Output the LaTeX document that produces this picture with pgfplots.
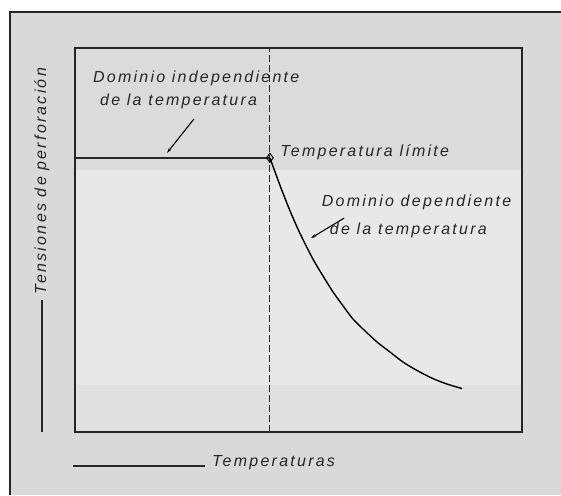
\documentclass[border=0pt]{standalone}
\usepackage{pgfplots}
\pgfplotsset{compat=1.18}
\usetikzlibrary{arrows.meta}
\usepackage{fontspec}
\setmainfont{Liberation Sans}[LetterSpace=14]
\begin{document}
\begin{tikzpicture}[x=1pt,y=1pt]
\path[use as bounding box] (0,0) rectangle (561,495);
% background tones (scanned dither approximated)
\fill[black!15] (10,0) rectangle (561,483);
\fill[black!9] (75,63) rectangle (522,447);
\fill[black!14] (75,325) rectangle (522,447);
\fill[black!12] (75,63) rectangle (522,110);
% outer frame
\draw[line width=1.2pt, black!85] (10,0) -- (10,483) -- (561,483);
\begin{axis}[
  at={(75pt,63pt)}, anchor=origin,
  width=447pt, height=384pt, scale only axis,
  xmin=0, xmax=10, ymin=0, ymax=10,
  xtick=\empty, ytick=\empty,
  axis line style={line width=1.4pt, black!85},
  clip=false,
  font=\itshape\fontsize{16}{18}\selectfont,
]
% dashed limit line
\addplot[black!85, line width=1.1pt, dash pattern=on 7pt off 3pt] coordinates {(4.36,0) (4.36,10)};
% temperature independent stress level
\addplot[black!85, line width=1.4pt] coordinates {(0,7.14) (4.36,7.14)};
% temperature dependent decay
\addplot[black, line width=1.4pt, smooth] coordinates {
 (4.36,7.14) (4.59,6.41) (4.81,5.76) (5.03,5.18) (5.32,4.51) (5.55,4.06)
 (5.77,3.65) (6.00,3.28) (6.22,2.94) (6.49,2.63) (6.76,2.34) (7.05,2.08)
 (7.34,1.82) (7.67,1.59) (8.01,1.39) (8.32,1.25) (8.66,1.13)};
% limit point marker
\addplot[only marks, mark=diamond, mark size=4.5pt, black, line width=1pt] coordinates {(4.36,7.14)};
% annotations
\node[anchor=west, inner sep=0, black!85] at (axis cs:0.40,9.22) {Dominio independiente};
\node[anchor=west, inner sep=0, black!85] at (axis cs:0.56,8.60) {de la temperatura};
\node[anchor=west, inner sep=0, black!85] at (axis cs:4.59,7.29) {Temperatura límite};
\node[anchor=west, inner sep=0, black!85] at (axis cs:5.52,5.99) {Dominio dependiente};
\node[anchor=west, inner sep=0, black!85] at (axis cs:5.70,5.26) {de la temperatura};
\draw[black, line width=1.1pt, {Stealth[length=5pt,width=3pt]}-] (axis cs:2.06,7.27) -- (axis cs:2.66,8.15);
\draw[black, line width=1.1pt, {Stealth[length=5pt,width=3pt]}-] (axis cs:5.28,5.05) -- (axis cs:6.02,5.57);
\end{axis}
% axis captions
\draw[black!85, line width=1.3pt] (42,63) -- (42,195);
\node[rotate=90, inner sep=0, black!85, font=\itshape\fontsize{16}{18}\selectfont] at (42,314) {Tensiones de perforación};
\draw[black!85, line width=1.3pt] (73,29) -- (205,29);
\node[anchor=west, inner sep=0, black!85, font=\itshape\fontsize{16}{18}\selectfont] at (212,32) {Temperaturas};
\end{tikzpicture}
\end{document}
